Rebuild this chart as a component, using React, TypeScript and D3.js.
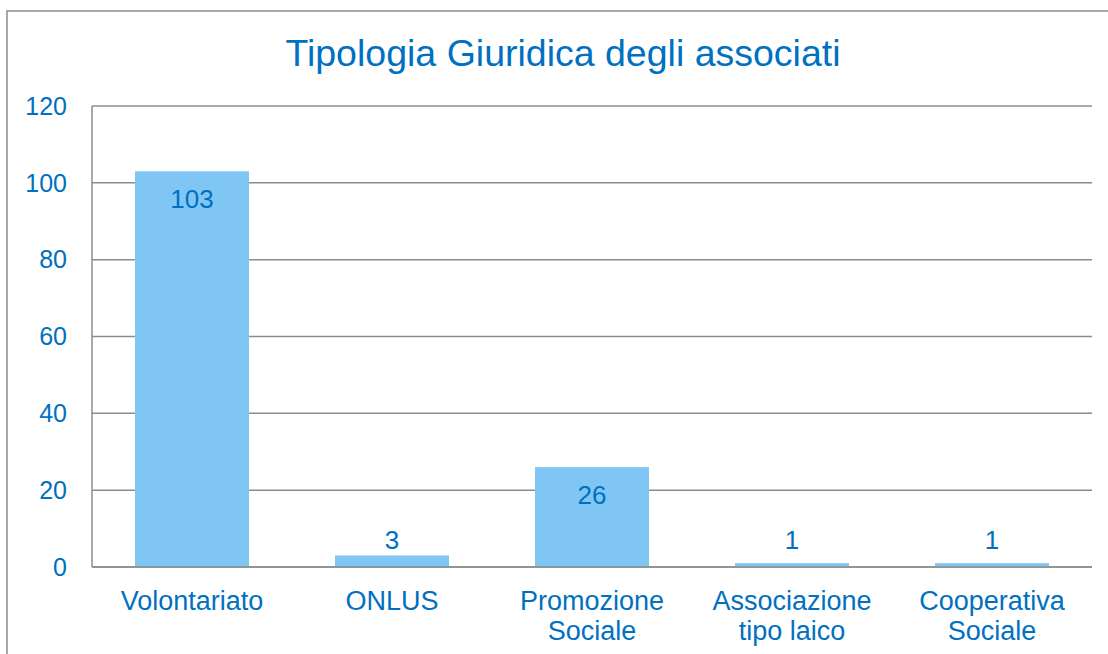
import React, { useEffect, useRef } from "react";
import * as d3 from "d3";

const categories = ["Volontariato", "ONLUS", "Promozione Sociale", "Associazione tipo laico", "Cooperativa Sociale"];
const categoryLines = [["Volontariato"], ["ONLUS"], ["Promozione", "Sociale"], ["Associazione", "tipo laico"], ["Cooperativa", "Sociale"]];
const values = [103, 3, 26, 1, 1];
const yTicks = [0, 20, 40, 60, 80, 100, 120];

const App = () => {
  const svgRef = useRef<SVGSVGElement>(null);

  useEffect(() => {
    const W = 1108;
    const H = 654;
    const font = "'Liberation Sans', Arial, sans-serif";
    const blue = "#0070c0";

    const svg = d3.select(svgRef.current).attr("width", W).attr("height", H);
    svg.selectAll("*").remove();

    // chart frame (runs off the right/bottom edge in the original)
    svg
      .append("rect")
      .attr("x", 7)
      .attr("y", 11)
      .attr("width", 1130)
      .attr("height", 680)
      .attr("fill", "white")
      .attr("stroke", "#8c8c8c")
      .attr("stroke-width", 1.5);

    svg
      .append("text")
      .attr("x", 563)
      .attr("y", 66)
      .attr("text-anchor", "middle")
      .attr("font-family", font)
      .attr("font-size", "37.5px")
      .attr("fill", blue)
      .text("Tipologia Giuridica degli associati");

    const margin = { top: 106, right: 16, bottom: 87, left: 92 };
    const width = W - margin.left - margin.right;
    const height = H - margin.top - margin.bottom;

    const g = svg.append("g").attr("transform", `translate(${margin.left},${margin.top})`);

    const x = d3.scaleBand().domain(categories).range([0, width]).paddingInner(0.43).paddingOuter(0.215);
    const y = d3.scaleLinear().domain([0, 120]).range([height, 0]);

    // gridlines
    g.selectAll(".grid")
      .data(yTicks)
      .enter()
      .append("line")
      .attr("x1", 0)
      .attr("x2", width)
      .attr("y1", (d) => y(d))
      .attr("y2", (d) => y(d))
      .attr("stroke", "#8c8c8c")
      .attr("stroke-width", 1.5);

    g.append("line")
      .attr("x1", 0)
      .attr("x2", 0)
      .attr("y1", y(120))
      .attr("y2", y(0))
      .attr("stroke", "#8c8c8c")
      .attr("stroke-width", 1.5);

    g.selectAll(".ytick")
      .data(yTicks)
      .enter()
      .append("text")
      .attr("x", -25)
      .attr("y", (d) => y(d))
      .attr("dy", "0.35em")
      .attr("text-anchor", "end")
      .attr("font-family", font)
      .attr("font-size", "25px")
      .attr("fill", blue)
      .text((d) => d);

    g.selectAll(".bar")
      .data(values)
      .enter()
      .append("rect")
      .attr("x", (d, i) => x(categories[i])!)
      .attr("y", (d) => y(d))
      .attr("width", x.bandwidth())
      .attr("height", (d) => y(0) - y(d))
      .attr("fill", "#7fc6f4");

    // redraw baseline above the bars
    g.append("line")
      .attr("x1", 0)
      .attr("x2", width)
      .attr("y1", y(0))
      .attr("y2", y(0))
      .attr("stroke", "#8c8c8c")
      .attr("stroke-width", 1.5);

    g.selectAll(".value")
      .data(values)
      .enter()
      .append("text")
      .attr("x", (d, i) => x(categories[i])! + x.bandwidth() / 2)
      .attr("y", (d) => {
        const top = y(d);
        if (y(0) - top > 50) return top + 37;
        return Math.min(top - 6, y(0) - 18);
      })
      .attr("text-anchor", "middle")
      .attr("font-family", font)
      .attr("font-size", "26px")
      .attr("fill", blue)
      .text((d) => d);

    const labels = g
      .selectAll(".cat")
      .data(categoryLines)
      .enter()
      .append("text")
      .attr("text-anchor", "middle")
      .attr("font-family", font)
      .attr("font-size", "27px")
      .attr("fill", blue)
      .attr("transform", (d, i) => `translate(${x(categories[i])! + x.bandwidth() / 2},${height + 43})`);

    labels
      .selectAll("tspan")
      .data((d) => d)
      .enter()
      .append("tspan")
      .attr("x", 0)
      .attr("y", (d, i) => i * 30)
      .text((d) => d);
  }, []);

  return <svg ref={svgRef} style={{ position: "absolute", left: 0, top: 0 }}></svg>;
};

export default App;
